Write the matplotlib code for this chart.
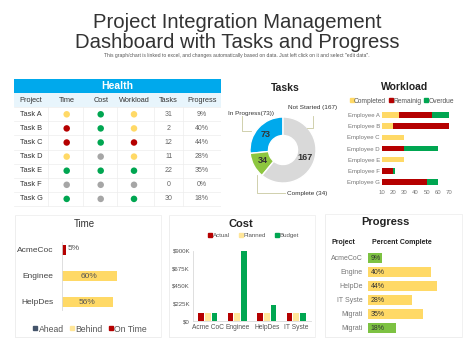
import matplotlib
matplotlib.use('Agg')
import matplotlib.pyplot as plt
from matplotlib.patches import Rectangle
from matplotlib.lines import Line2D
import numpy as np

plt.rcParams['font.family'] = ['Liberation Sans', 'DejaVu Sans']

# ---- data ----
health_cols = ['Project', 'Time', 'Cost', 'Workload', 'Tasks', 'Progress']
health_tasks = ['Task A', 'Task B', 'Task C', 'Task D', 'Task E', 'Task F', 'Task G']
health_time = ['y', 'r', 'r', 'y', 'g', 'x', 'g']
health_cost = ['g', 'g', 'g', 'x', 'g', 'x', 'x']
health_work = ['y', 'y', 'r', 'y', 'g', 'x', 'g']
health_count = [31, 2, 12, 11, 22, 0, 30]
health_prog = ['9%', '40%', '44%', '28%', '35%', '0%', '18%']

task_labels = ['In Progress', 'Complete', 'Not Started']
task_values = [73, 34, 167]

employees = ['Employee A', 'Employee B', 'Employee C', 'Employee D',
             'Employee E', 'Employee F', 'Employee G']
wl_completed = [25, 20, 30, 0, 30, 0, 0]
wl_remaining = [30, 50, 0, 30, 0, 20, 50]
wl_overdue = [15, 0, 0, 30, 0, 2, 10]

time_projects = ['AcmeCoc', 'Enginee', 'HelpDes']
time_ontime = [5, 0, 0]
time_behind = [0, 60, 56]

cost_projects = ['Acme CoC', 'Enginee', 'HelpDes', 'IT Syste']
cost_actual = [100, 100, 100, 100]
cost_planned = [100, 100, 100, 100]
cost_budget = [100, 900, 205, 100]
cost_ticks = [0, 225, 450, 675, 900]

prog_projects = ['AcmeCoC', 'Engine', 'HelpDe', 'IT Syste', 'Migrati', 'Migrati']
prog_values = [9, 40, 44, 28, 35, 18]

# ---- colours ----
C_YEL = '#FFD966'
C_LYEL = '#FFE699'
C_RED = '#B50000'
C_GRN = '#00A651'
C_LGRN = '#7DC242'
C_GRY = '#A6A6A6'
C_BLUE = '#00A9EC'
dot_col = {'y': C_YEL, 'r': C_RED, 'g': C_GRN, 'x': C_GRY}

W, H = 474, 355
fig = plt.figure(figsize=(W / 100, H / 100), dpi=100, facecolor='white')


def px_axes(x0, y0, x1, y1):
    return fig.add_axes([x0 / W, 1 - y1 / H, (x1 - x0) / W, (y1 - y0) / H])


def ftext(x, y, s, **kw):
    fig.text(x / W, 1 - y / H, s, **kw)


# ---- title ----
ftext(237, 22, 'Project Integration Management', ha='center', va='center',
      fontsize=14.6, color='#333333')
ftext(237, 42, 'Dashboard with Tasks and Progress', ha='center', va='center',
      fontsize=14.6, color='#333333')
ftext(237, 56, 'This graph/chart is linked to excel, and changes automatically based on data. '
      'Just left click on it and select "edit data".', ha='center', va='center',
      fontsize=3.6, color='#555555')

# ---- bottom boxes (behind everything) ----
for x0, y0, x1, y1 in [(15, 215, 160.7, 337), (169, 215, 315, 337), (325, 214, 461.7, 337)]:
    fig.patches.append(Rectangle((x0 / W, 1 - y1 / H - 1.2 / H), (x1 - x0) / W, (y1 - y0) / H,
                                 transform=fig.transFigure, facecolor='#F2F2F2',
                                 edgecolor='none', zorder=-3))
    fig.patches.append(Rectangle((x0 / W, 1 - y1 / H), (x1 - x0) / W, (y1 - y0) / H,
                                 transform=fig.transFigure, facecolor='white',
                                 edgecolor='#EBEBEB', lw=0.5, zorder=-2))

# ---- health table ----
ax = px_axes(14, 79, 221, 207)
ax.set_xlim(14, 221)
ax.set_ylim(207, 79)
ax.axis('off')
col_x = [31, 66.7, 100.7, 134, 168.7, 201.7]
col_sep = [48, 83, 117, 154, 183]
row0, row_h = 114.3, 14.1
ax.add_patch(Rectangle((14, 79), 207, 14.3, color=C_BLUE, lw=0))
ax.text(117.5, 86.3, 'Health', ha='center', va='center', fontsize=7.5,
        color='white', fontweight='bold')
ax.add_patch(Rectangle((14, 93.3), 207, 14, color='#E8F5FC', lw=0))
for x, c in zip(col_x, health_cols):
    ax.text(x, 100.3, c, ha='center', va='center', fontsize=5.3, color='#333333')
for i in range(len(health_tasks) + 1):
    yl = row0 - row_h / 2 + i * row_h
    ax.plot([14, 221], [yl, yl], color='#EDEDED', lw=0.5)
for x in col_sep:
    ax.plot([x, x], [107.3, 205.6], color='#EDEDED', lw=0.5)
rows_y = [row0 + i * row_h for i in range(len(health_tasks))]
for j, vals in enumerate([health_time, health_cost, health_work]):
    ax.scatter([col_x[j + 1]] * len(vals), rows_y, s=22,
               c=[dot_col[v] for v in vals], linewidths=0, zorder=3)
for y, t, n, p in zip(rows_y, health_tasks, health_count, health_prog):
    ax.text(col_x[0], y, t, ha='center', va='center', fontsize=5.3, color='#333333')
    ax.text(col_x[4], y, str(n), ha='center', va='center', fontsize=5, color='#666666')
    ax.text(col_x[5], y, p, ha='center', va='center', fontsize=5, color='#666666')

# ---- tasks donut ----
ftext(285, 88, 'Tasks', ha='center', va='center', fontsize=7.5, fontweight='bold',
      color='#222222')
ax = px_axes(250, 117, 316, 183)
ax.pie(task_values, colors=[C_BLUE, '#8DC63F', '#D9D9D9'], startangle=90,
       counterclock=True, radius=1,
       wedgeprops=dict(width=0.56, edgecolor='white', linewidth=1))
ax.set_xlim(-1, 1)
ax.set_ylim(-1, 1)
ax.set_aspect('equal')
tot = sum(task_values)
start = 90
for v in task_values:
    mid = np.deg2rad(start + v / tot * 180)
    ax.text(0.7 * np.cos(mid), 0.7 * np.sin(mid), str(v), ha='center', va='center',
            fontsize=6.5, fontweight='bold', color='#333333')
    start += v / tot * 360
ovl = px_axes(0, 0, W, H)
ovl.set_xlim(0, W)
ovl.set_ylim(H, 0)
ovl.axis('off')
ovl.patch.set_alpha(0)
lc = '#C9C9A0'
ovl.plot([241.7, 241.7, 251], [116, 131, 131], color=lc, lw=0.6)
ovl.plot([312.7, 312.7, 306.7], [116, 128.3, 128.3], color=lc, lw=0.6)
ovl.plot([256.7, 256.7, 285], [175, 193.3, 193.3], color=lc, lw=0.6)
ovl.text(228, 113, 'In Progress(73))', ha='left', va='center', fontsize=4.6, color='#333333')
ovl.text(288, 108, 'Not Started (167)', ha='left', va='center', fontsize=4.6, color='#333333')
ovl.text(287, 193.5, 'Complete (34)', ha='left', va='center', fontsize=4.6, color='#333333')

# ---- workload ----
ftext(405, 87, 'Workload', ha='center', va='center', fontsize=7.5, fontweight='bold',
      color='#222222')
ax = px_axes(382, 109.4, 449, 187.6)
yy = np.arange(len(employees))
left2 = np.array(wl_completed) + np.array(wl_remaining)
ax.barh(yy, wl_completed, height=0.5, color=C_YEL)
ax.barh(yy, wl_remaining, left=wl_completed, height=0.5, color=C_RED)
ax.barh(yy, wl_overdue, left=left2, height=0.5, color=C_GRN)
ax.set_xlim(10, 70)
ax.set_ylim(6.5, -0.5)
ax.set_xticks(range(10, 71, 10))
ax.set_yticks(yy)
ax.set_yticklabels(employees)
ax.tick_params(length=0, labelsize=4.3, colors='#777777', pad=1.5)
for s in ax.spines.values():
    s.set_visible(False)
ax.patch.set_alpha(0)
hd = [Line2D([], [], marker='s', ls='', color=c, markersize=2.6) for c in [C_YEL, C_RED, C_GRN]]
fig.legend(hd, ['Completed', 'Remainig', 'Overdue'], loc='center',
           bbox_to_anchor=(402 / W, 1 - 101 / H), ncol=3, frameon=False, fontsize=4.8,
           handlelength=0.5, handletextpad=0.1, columnspacing=0.5, labelcolor='#555555')

# ---- time ----
ftext(84, 224, 'Time', ha='center', va='center', fontsize=7, color='#333333')
ax = px_axes(61.7, 237, 153.4, 315)
ty = np.arange(len(time_projects))
ax.barh(ty, time_ontime, height=0.4, color=C_RED)
ax.barh(ty, time_behind, left=time_ontime, height=0.4, color=C_YEL)
ax.set_xlim(0, 100)
ax.set_ylim(2.5, -0.5)
ax.set_xticks([])
ax.set_yticks(ty)
ax.set_yticklabels(time_projects)
ax.tick_params(length=0, labelsize=6, colors='#444444', pad=6)
for s in ['top', 'right', 'bottom']:
    ax.spines[s].set_visible(False)
ax.spines['left'].set_color('#D9D9D9')
ax.spines['left'].set_linewidth(0.6)
ax.spines['left'].set_bounds(2.3, -0.3)
ax.patch.set_alpha(0)
for i in ty:
    tot_t = time_ontime[i] + time_behind[i]
    if time_behind[i] > 0:
        ax.text(tot_t / 2, i, f'{tot_t}%', ha='center', va='center', fontsize=6, color='#555555')
    else:
        ax.text(tot_t + 1.5, i - 0.05, f'{tot_t}%', ha='left', va='center', fontsize=6,
                color='#555555')
hd = [Line2D([], [], marker='s', ls='', color=c, markersize=2.6) for c in ['#44546A', C_LYEL, C_RED]]
fig.legend(hd, ['Ahead', 'Behind', 'On Time'], loc='center',
           bbox_to_anchor=(90 / W, 1 - 329 / H), ncol=3, frameon=False, fontsize=6.2,
           handlelength=0.5, handletextpad=0.15, columnspacing=0.7, labelcolor='#555555')

# ---- cost ----
ftext(241, 224, 'Cost', ha='center', va='center', fontsize=8, fontweight='bold',
      color='#222222')
ax = px_axes(193, 250.7, 311, 321)
cx = np.arange(len(cost_projects))
ax.bar(cx - 0.23, cost_actual, width=0.19, color=C_RED)
ax.bar(cx, cost_planned, width=0.19, color=C_LYEL)
ax.bar(cx + 0.23, cost_budget, width=0.19, color=C_GRN)
ax.set_xlim(-0.5, 3.5)
ax.set_ylim(0, 900)
ax.set_yticks(cost_ticks)
ax.set_yticklabels(['$0' if t == 0 else f'${t}K' for t in cost_ticks])
ax.set_xticks(cx)
ax.set_xticklabels(cost_projects)
ax.tick_params(length=0, labelsize=4.4, colors='#555555', pad=2)
ax.tick_params(axis='x', labelsize=4.8)
for s in ['top', 'right']:
    ax.spines[s].set_visible(False)
for s in ['left', 'bottom']:
    ax.spines[s].set_color('#D9D9D9')
    ax.spines[s].set_linewidth(0.6)
ax.patch.set_alpha(0)
hd = [Line2D([], [], marker='s', ls='', color=c, markersize=2.4) for c in [C_RED, C_LYEL, C_GRN]]
fig.legend(hd, ['Actual', 'Planned', 'Budget'], loc='center',
           bbox_to_anchor=(254 / W, 1 - 235 / H), ncol=3, frameon=False, fontsize=4.4,
           handlelength=0.5, handletextpad=0.15, columnspacing=1.6, labelcolor='#555555')

# ---- progress ----
ftext(385, 222, 'Progress', ha='center', va='center', fontsize=8, fontweight='bold',
      color='#222222')
ftext(331.7, 242, 'Project', ha='left', va='center', fontsize=5, fontweight='bold',
      color='#222222')
ftext(371.7, 242, 'Percent Complete', ha='left', va='center', fontsize=5,
      fontweight='bold', color='#222222')
ax = px_axes(368, 251, 446.3, 335)
py = np.arange(len(prog_projects))
pcol = [C_LGRN, C_YEL, C_YEL, C_YEL, C_YEL, C_LGRN]
ax.barh(py, prog_values, height=0.7, color=pcol)
ax.set_xlim(0, 50)
ax.set_ylim(5.5, -0.5)
ax.set_xticks([])
ax.set_yticks(py)
ax.set_yticklabels(prog_projects)
ax.tick_params(length=0, labelsize=5, colors='#777777', pad=4)
for s in ax.spines.values():
    s.set_visible(False)
ax.patch.set_alpha(0)
for i, v in zip(py, prog_values):
    ax.text(1.8, i, f'{v}%', ha='left', va='center', fontsize=5, color='#333333')

fig.savefig('out.png', dpi=100, facecolor='white')
